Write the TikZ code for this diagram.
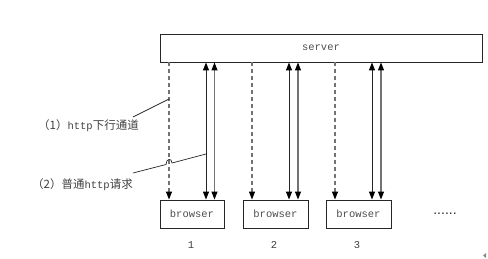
\documentclass[tikz,border=0pt]{standalone}
\usepackage{fontspec}
\setmainfont{Liberation Mono}
\newfontfamily\cjk{Noto Sans CJK SC}
\newfontfamily\dotfont{Liberation Sans}
\usetikzlibrary{arrows.meta,calc}
\begin{document}
\begin{tikzpicture}[x=1pt,y=-1pt,
  box/.style={draw=black!85,line width=0.9pt,inner sep=0pt,text=black!70,font=\fontsize{10.5}{12}\selectfont},
  lbl/.style={text=black!75,font=\fontsize{10.5}{12}\selectfont,inner sep=0pt},
  dashline/.style={draw=black!55,line width=1.2pt,dash pattern=on 4pt off 3pt,-{Triangle[length=8pt,width=6pt,color=black]}},
  reqA/.style={draw=black!85,line width=1pt,{Triangle[length=8pt,width=6pt,color=black]}-{Triangle[length=8pt,width=6pt,color=black]}},
  reqB/.style={draw=black!55,line width=1.2pt,{Triangle[length=8pt,width=6pt,color=black]}-{Triangle[length=8pt,width=6pt,color=black]}},
  leader/.style={draw=black!85,line width=0.7pt}]
\useasboundingbox (0,0) rectangle (488,258);
\node[box,minimum width=322pt,minimum height=28pt] (server) at (321,48) {server};
\node[box,minimum width=64pt,minimum height=28pt] (b1) at (192,214) {browser};
\node[box,minimum width=65pt,minimum height=28pt] (b2) at (275.5,214) {browser};
\node[box,minimum width=65pt,minimum height=28pt] (b3) at (358.5,214) {browser};
\node[lbl] (n1) at (191,245) {1};
\node[lbl] (n2) at (274,245) {2};
\node[lbl] (n3) at (357,245) {3};
\node[lbl,text=black!85,font=\dotfont\fontsize{14}{14}\selectfont,anchor=base] (dots) at (445,214) {......};
\foreach \i/\xd/\xa/\xb in {1/169/206/214.5, 2/252/289/298, 3/335/372/381}{
  \coordinate (d\i) at (\xd,0);
  \coordinate (a\i) at (\xa,0);
  \coordinate (c\i) at (\xb,0);
  \draw[dashline] (server.south -| d\i) -- (b\i.north -| d\i);
  \draw[reqA] (b\i.north -| a\i) -- (server.south -| a\i);
  \draw[reqB] (b\i.north -| c\i) -- (server.south -| c\i);
}
\node[lbl,anchor=west] (t1) at (38,126) {{\cjk\fontsize{11.5}{13}\selectfont （1）}http{\cjk\fontsize{11.5}{13}\selectfont 下行通道}};
\node[lbl,anchor=west] (t2) at (32,185) {{\cjk\fontsize{11.5}{13}\selectfont （2）普通}http{\cjk\fontsize{11.5}{13}\selectfont 请求}};
\coordinate (l1s) at (133,117);
\coordinate (l1e) at (169,99);
\draw[leader] (l1s) -- (l1e);
\coordinate (l2s) at (133,173);
\coordinate (h1) at (166,164.5);
\coordinate (h2) at (172,163);
\coordinate (l2e) at (206,154);
\draw[leader] (l2s) -- (h1) .. controls (166,158.5) and (172,157.5) .. (h2) -- (l2e);
\fill[black!45] (486,253) -- (483,255.5) -- (486,258) -- cycle;
\end{tikzpicture}
\end{document}
